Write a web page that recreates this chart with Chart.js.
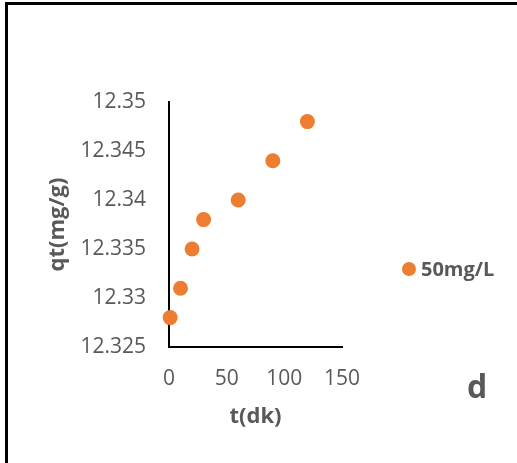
<!DOCTYPE html>
<html>
<head>
<meta charset="utf-8">
<script src="https://cdn.jsdelivr.net/npm/chart.js@4"></script>
<style>
  body { margin: 0; background: #fff; }
  #wrap { position: relative; width: 517px; height: 463px; }
  #frame {
    position: absolute; left: 5px; top: 2px; width: 512px; height: 461px;
    border-top: 3px solid #000; border-left: 3px solid #000; box-sizing: border-box;
    pointer-events: none;
  }
</style>
</head>
<body>
<div id="wrap">
  <canvas id="chart" width="517" height="463"></canvas>
  <div id="frame"></div>
</div>
<script>
// Data
const seriesLabel = '50mg/L';
const timeValues = [1, 10, 20, 30, 60, 90, 120];
const qtValues = [12.328, 12.331, 12.335, 12.338, 12.340, 12.344, 12.348];
const xTicks = [0, 50, 100, 150];
const yTicks = [12.325, 12.33, 12.335, 12.34, 12.345, 12.35];
const panelLetter = 'd';

const grey = '#595959';
const orange = '#ED7D31';

// Legend + panel letter drawn on the right
const sideText = {
    id: 'sideText',
    afterDraw(chart) {
        const ctx = chart.ctx;
        ctx.save();
        ctx.fillStyle = orange;
        ctx.beginPath();
        ctx.arc(409, 269, 7, 0, Math.PI * 2);
        ctx.fill();
        ctx.fillStyle = grey;
        ctx.font = 'bold 20px "Open Sans"';
        ctx.textBaseline = 'middle';
        ctx.textAlign = 'left';
        ctx.fillText(chart.data.datasets[0].label, 421, 270);
        ctx.font = 'bold 32px "Open Sans"';
        ctx.textAlign = 'center';
        ctx.fillText(panelLetter, 477, 389);
        ctx.restore();
    }
};

const ctx = document.getElementById('chart').getContext('2d');
const chart = new Chart(ctx, {
    type: 'scatter',
    data: {
        datasets: [{
            label: seriesLabel,
            data: timeValues.map((t, i) => ({ x: t, y: qtValues[i] })),
            backgroundColor: orange,
            borderWidth: 0,
            pointRadius: 7.5,
            pointHoverRadius: 7.5,
            clip: false
        }]
    },
    options: {
        responsive: false,
        animation: false,
        layout: { padding: { left: 0, top: 102, right: 175, bottom: 0 } },
        plugins: {
            legend: { display: false },
            tooltip: { enabled: false }
        },
        scales: {
            x: {
                type: 'linear',
                min: 0,
                max: 150,
                afterFit: s => { s.height = 116; },
                afterBuildTicks: s => { s.ticks = xTicks.map(v => ({ value: v })); },
                grid: { display: false, drawTicks: false },
                border: { display: true, color: '#000', width: 2 },
                ticks: { color: grey, padding: 19, font: { family: 'Open Sans', size: 21 }, maxRotation: 0 },
                title: {
                    display: true, text: 't(dk)', color: grey,
                    font: { family: 'Open Sans', size: 22, weight: 'bold' },
                    padding: { top: 0, bottom: 33 }
                }
            },
            y: {
                type: 'linear',
                min: 12.325,
                max: 12.35,
                afterFit: s => { s.width = 169; },
                afterBuildTicks: s => { s.ticks = yTicks.map(v => ({ value: v })); },
                grid: { display: false, drawTicks: false },
                border: { display: true, color: '#000', width: 2 },
                ticks: {
                    color: grey, padding: 23, font: { family: 'Open Sans', size: 21 },
                    callback: v => String(parseFloat(v.toFixed(3)))
                },
                title: {
                    display: true, text: 'qt(mg/g)', color: grey,
                    font: { family: 'Open Sans', size: 22, weight: 'bold' },
                    padding: { top: 45, bottom: 0 }
                }
            }
        }
    },
    plugins: [sideText]
});
</script>
</body>
</html>
